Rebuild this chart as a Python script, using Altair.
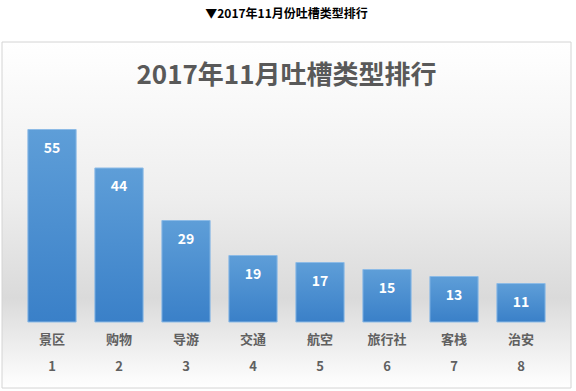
import altair as alt
import pandas as pd

categories = ["景区", "购物", "导游", "交通", "航空", "旅行社", "客栈", "治安"]
values = [55, 44, 29, 19, 17, 15, 13, 11]
ranks = [1, 2, 3, 4, 5, 6, 7, 8]

caption = "▼2017年11月份吐槽类型排行"
chart_title = "2017年11月吐槽类型排行"

df = pd.DataFrame({"cat": categories, "val": values, "rank": ranks})
panel = pd.DataFrame({"k": [0]})

FONT = "Noto Sans CJK SC"
W, H = 536, 210
PL, PT = 18.5, 112

cat_list = "[" + ",".join("'%s'" % c for c in categories) + "]"
label_expr = "[datum.label, '' + (indexof(%s, datum.label) + 1)]" % cat_list

x = alt.X("cat:N", sort=categories, title=None,
          scale=alt.Scale(paddingInner=0.28, paddingOuter=0.14),
          axis=alt.Axis(labelExpr=label_expr, labelAngle=0, domain=False, ticks=False,
                        labelPadding=11, labelFont=FONT, labelFontSize=13,
                        labelFontWeight="bold", labelColor="#606060",
                        labelLineHeight=27, labelBaseline="top", grid=False,
                        zindex=2))
y = alt.Y("val:Q", title=None, scale=alt.Scale(domain=[0, 60]), axis=None)

bg = alt.Chart(panel).mark_rect(
    stroke="#d4d4d4", strokeWidth=1,
    color=alt.Gradient(gradient="linear", x1=0, x2=0, y1=0, y2=1,
                       stops=[alt.GradientStop(color="#ffffff", offset=0),
                              alt.GradientStop(color="#eeeeee", offset=0.45),
                              alt.GradientStop(color="#dadada", offset=0.74),
                              alt.GradientStop(color="#eeeeee", offset=0.88),
                              alt.GradientStop(color="#ffffff", offset=1)])
).encode(x=alt.value(-16.5), x2=alt.value(552.5), y=alt.value(-70), y2=alt.value(276))

bars = alt.Chart(df).mark_bar(
    stroke="#8dbbe6", strokeWidth=1,
    color=alt.Gradient(gradient="linear", x1=0, x2=0, y1=0, y2=1,
                       stops=[alt.GradientStop(color="#5e9ed8", offset=0),
                              alt.GradientStop(color="#3a80c8", offset=1)])
).encode(x=x, y=y)

labels = alt.Chart(df).mark_text(
    font=FONT, fontSize=14, fontWeight="bold", color="#ffffff", baseline="middle", dy=19
).encode(x=alt.X("cat:N", sort=categories), y="val:Q", text="val:Q")

chart = alt.layer(bg, bars, labels).properties(
    width=W, height=H,
    title=alt.TitleParams(
        text=caption, subtitle=chart_title, anchor="middle", frame="group",
        font=FONT, fontSize=12, fontWeight="bold", color="#000000",
        subtitleFont=FONT, subtitleFontSize=26, subtitleFontWeight="bold",
        subtitleColor="#595959", subtitlePadding=42, offset=-48),
    autosize=alt.AutoSizeParams(type="none"),
    padding={"left": PL, "top": PT, "right": 576 - PL - W, "bottom": 391 - PT - H},
).configure_view(stroke=None).configure(background="#ffffff")

chart.save("out.html", embed_options={"renderer": "svg", "actions": False})
